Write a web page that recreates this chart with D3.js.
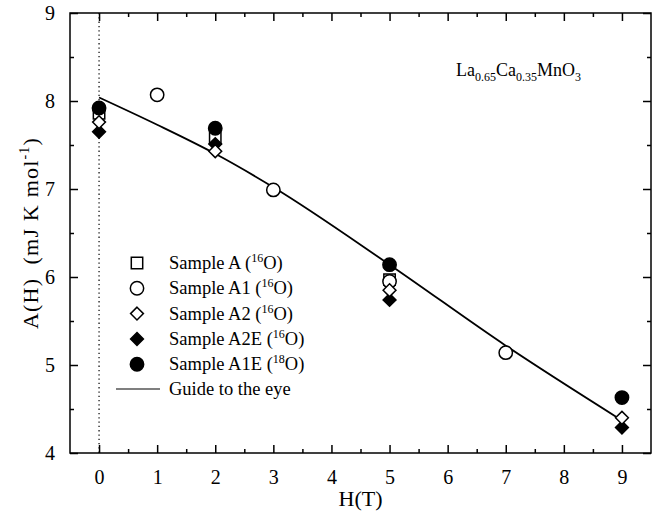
<!DOCTYPE html>
<html>
<head>
<meta charset="utf-8">
<script src="https://cdn.jsdelivr.net/npm/d3@7"></script>
<style>
  body { margin: 0; background: #fff; }
  text { font-family: "Liberation Serif", "Times New Roman", serif; fill: #000; }
  .axis path, .axis line { stroke: #000; stroke-width: 1.5; }
</style>
</head>
<body>
<script>
var outerWidth = 672, outerHeight = 514;
var margin = { top: 13, right: 21, bottom: 61, left: 70 };
var width = outerWidth - margin.left - margin.right,
  height = outerHeight - margin.top - margin.bottom;

// data
var xMajor = [0, 1, 2, 3, 4, 5, 6, 7, 8, 9];
var xMinor = [0.5, 1.5, 2.5, 3.5, 4.5, 5.5, 6.5, 7.5, 8.5];
var yMajor = [4, 5, 6, 7, 8, 9];
var yMinor = [4.5, 5.5, 6.5, 7.5, 8.5];

var sampleA   = [{ x: 0, y: 7.86 }, { x: 2, y: 7.58 }, { x: 5, y: 5.97 }];
var sampleA1  = [{ x: 1, y: 8.07 }, { x: 3, y: 6.99 }, { x: 5, y: 5.95 }, { x: 7, y: 5.14 }];
var sampleA2  = [{ x: 0, y: 7.76 }, { x: 2, y: 7.43 }, { x: 5, y: 5.85 }, { x: 9, y: 4.40 }];
var sampleA2E = [{ x: 0, y: 7.65 }, { x: 2, y: 7.51 }, { x: 5, y: 5.74 }, { x: 9, y: 4.29 }];
var sampleA1E = [{ x: 0, y: 7.92 }, { x: 2, y: 7.69 }, { x: 5, y: 6.14 }, { x: 9, y: 4.63 }];
var guide = [{ x: 0, y: 8.04 }, { x: 1, y: 7.73 }, { x: 2, y: 7.40 }, { x: 3, y: 7.02 },
  { x: 5, y: 6.14 }, { x: 7, y: 5.22 }, { x: 9, y: 4.37 }];

var legendNames = ["Sample A", "Sample A1", "Sample A2", "Sample A2E", "Sample A1E"];
var legendIso = ["16", "16", "16", "16", "18"];

var x = d3.scaleLinear().domain([-0.5, 9.5]).range([0, width]);
var y = d3.scaleLinear().domain([4, 9]).range([height, 0]);

var svg = d3.select("body").append("svg")
  .attr("width", outerWidth)
  .attr("height", outerHeight);

var g = svg.append("g")
  .attr("transform", "translate(" + margin.left + "," + margin.top + ")");

// dotted line at H = 0
g.append("line")
  .attr("x1", x(0)).attr("x2", x(0))
  .attr("y1", 0).attr("y2", height)
  .style("stroke", "#000")
  .style("stroke-width", 1.2)
  .style("stroke-dasharray", "1.3,3");

// axes, ticks pointing inward
function axisGroup(axis, tx, ty, labels) {
  var a = g.append("g").attr("class", "axis")
    .attr("transform", "translate(" + tx + "," + ty + ")")
    .call(axis);
  if (!labels) a.selectAll("text").remove();
  a.select(".domain").remove();
  return a;
}
var bottom = axisGroup(d3.axisBottom(x).tickValues(xMajor).tickSize(-8).tickPadding(17).tickFormat(d3.format("d")), 0, height, true);
bottom.selectAll("text").style("font-size", "20px");
axisGroup(d3.axisBottom(x).tickValues(xMinor).tickSize(-4), 0, height, false);
axisGroup(d3.axisTop(x).tickValues(xMajor).tickSize(-8), 0, 0, false);
axisGroup(d3.axisTop(x).tickValues(xMinor).tickSize(-4), 0, 0, false);

var left = axisGroup(d3.axisLeft(y).tickValues(yMajor).tickSize(-8).tickPadding(15).tickFormat(d3.format("d")), 0, 0, true);
left.selectAll("text").style("font-size", "20px");
axisGroup(d3.axisLeft(y).tickValues(yMinor).tickSize(-4), 0, 0, false);
axisGroup(d3.axisRight(y).tickValues(yMajor).tickSize(-8), width, 0, false);
axisGroup(d3.axisRight(y).tickValues(yMinor).tickSize(-4), width, 0, false);

g.append("rect")
  .attr("width", width).attr("height", height)
  .style("fill", "none").style("stroke", "#000").style("stroke-width", 1.5);

// guide to the eye
var line = d3.line().curve(d3.curveMonotoneX)
  .x(function (d) { return x(d.x); })
  .y(function (d) { return y(d.y); });

g.append("path")
  .datum(guide)
  .attr("d", line)
  .style("fill", "none")
  .style("stroke", "#000")
  .style("stroke-width", 1.8);

// markers
var sq = d3.symbol().type(d3.symbolSquare).size(130);
var ci = d3.symbol().type(d3.symbolCircle).size(140);
var di = d3.symbol().type(d3.symbolDiamond2).size(105);

function plot(data, sym, filled) {
  g.selectAll(null)
    .data(data)
    .enter().append("path")
    .attr("d", sym)
    .attr("transform", function (d) { return "translate(" + x(d.x) + "," + y(d.y) + ")"; })
    .style("fill", filled ? "#000" : "#fff")
    .style("stroke", "#000")
    .style("stroke-width", 1.5);
}
plot(sampleA, sq, false);
plot(sampleA1, ci, false);
plot(sampleA2E, di, true);
plot(sampleA2, di, false);
plot(sampleA1E, ci, true);

// legend
var legSyms = [[sq, false], [ci, false], [di, false], [di, true], [ci, true]];
var leg = svg.append("g");
legendNames.forEach(function (name, i) {
  var ly = 263 + i * 25.3;
  leg.append("path")
    .attr("d", legSyms[i][0])
    .attr("transform", "translate(137," + ly + ")")
    .style("fill", legSyms[i][1] ? "#000" : "#fff")
    .style("stroke", "#000")
    .style("stroke-width", 1.5);
  var t = leg.append("text")
    .attr("x", 169).attr("y", ly + 6)
    .style("font-size", "18.5px");
  t.append("tspan").text(name + " (");
  t.append("tspan").attr("dy", -7).style("font-size", "12px").text(legendIso[i]);
  t.append("tspan").attr("dy", 7).text("O)");
});
leg.append("line")
  .attr("x1", 116).attr("x2", 160)
  .attr("y1", 389).attr("y2", 389)
  .style("stroke", "#000").style("stroke-width", 1.2);
leg.append("text")
  .attr("x", 169).attr("y", 395)
  .style("font-size", "18.5px")
  .text("Guide to the eye");

// compound label
var title = svg.append("text")
  .attr("x", 456).attr("y", 76)
  .style("font-size", "18px");
[["La", false], ["0.65", true], ["Ca", false], ["0.35", true], ["MnO", false], ["3", true]].forEach(function (p, i) {
  var s = title.append("tspan").text(p[0]);
  if (p[1]) s.attr("dy", 5).style("font-size", "12px");
  else if (i > 0) s.attr("dy", -5);
});

// axis titles
svg.append("text")
  .attr("x", margin.left + x(4.5)).attr("y", 506)
  .attr("text-anchor", "middle")
  .style("font-size", "22px")
  .text("H(T)");

var yl = svg.append("text")
  .attr("transform", "translate(38," + (margin.top + height / 2) + ") rotate(-90)")
  .attr("text-anchor", "middle")
  .style("font-size", "22px")
  .style("letter-spacing", "1.2px");
yl.append("tspan").text("A(H)\u00a0 (mJ K mol");
yl.append("tspan").attr("dy", -9).style("font-size", "14px").text("-1");
yl.append("tspan").attr("dy", 9).text(")");
</script>
</body>
</html>
